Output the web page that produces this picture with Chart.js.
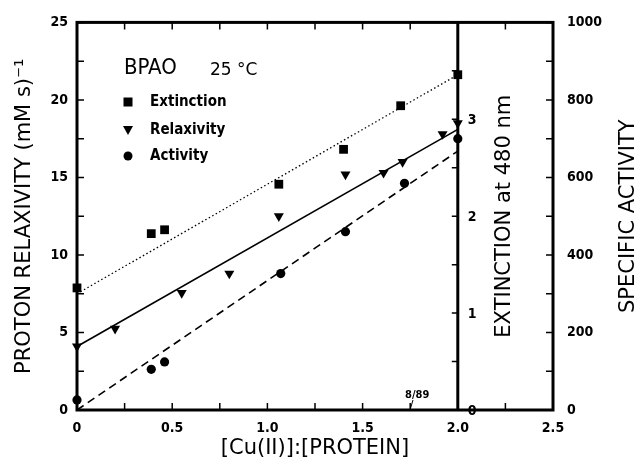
<!DOCTYPE html>
<html>
<head>
<meta charset="utf-8">
<script src="https://cdn.jsdelivr.net/npm/chart.js@4/dist/chart.umd.min.js"></script>
<style>
  html, body { margin: 0; padding: 0; background: #fff; }
</style>
</head>
<body>
<canvas id="chart" width="640" height="467"></canvas>
<script>
// Values
// Extinction at 480 nm (squares)
const extX = [0, 0.39, 0.46, 1.06, 1.40, 1.70, 2.0];
const extY = [1.26, 1.82, 1.86, 2.33, 2.69, 3.14, 3.46];
// Proton relaxivity (triangles), (mM s)^-1
const relaxX = [0, 0.20, 0.55, 0.80, 1.06, 1.41, 1.61, 1.71, 1.92, 2.0];
const relaxY = [4.1, 5.25, 7.55, 8.8, 12.5, 15.2, 15.3, 16.0, 17.8, 18.5];
// Specific activity (circles)
const actX = [0, 0.39, 0.46, 1.07, 1.41, 1.72, 2.0];
const actY = [26, 105, 124, 352, 460, 585, 700];

// fitted lines (end points)
const extFitX   = [0, 2.0];
const extFitY   = [1.2, 3.46];
const relaxFitX = [0, 2.0];
const relaxFitY = [4.1, 18.1];
const actFitX   = [0, 2.0];
const actFitY   = [0, 668];

const extTickLabels = [0, 1, 2, 3];

const FONT = '"DejaVu Sans Condensed", "Liberation Sans Narrow", "DejaVu Sans", sans-serif';
const WIDE = '"DejaVu Sans", sans-serif';
const BLACK = '#000';

const pts = (xs, ys) => xs.map((x, i) => ({ x, y: ys[i] }));

// frame, inward ticks, extinction axis, annotations
const decorations = {
  id: 'decorations',
  beforeDatasetsDraw(chart) {
    const { ctx, chartArea: a, scales } = chart;
    const sx = scales.x, sy = scales.y, sa = scales.yAct, se = scales.yExt;
    const tl = 7;
    ctx.save();
    ctx.strokeStyle = BLACK;

    // ticks
    ctx.lineWidth = 1.5;
    ctx.beginPath();
    for (let v = 0; v <= 2.5001; v += 0.25) {
      const px = sx.getPixelForValue(v);
      ctx.moveTo(px, a.bottom); ctx.lineTo(px, a.bottom - tl);
      ctx.moveTo(px, a.top);    ctx.lineTo(px, a.top + tl);
    }
    for (let v = 0; v <= 25.001; v += 2.5) {
      const py = sy.getPixelForValue(v);
      ctx.moveTo(a.left, py); ctx.lineTo(a.left + tl, py);
    }
    for (let v = 0; v <= 1000; v += 100) {
      const py = sa.getPixelForValue(v);
      ctx.moveTo(a.right, py); ctx.lineTo(a.right - tl, py);
    }
    const ex = sx.getPixelForValue(2.0);
    for (let v = 0; v <= 4.001; v += 0.5) {
      const py = se.getPixelForValue(v);
      ctx.moveTo(ex, py); ctx.lineTo(ex - 6, py);
    }
    ctx.stroke();

    // frame
    ctx.lineWidth = 3;
    ctx.strokeRect(a.left, a.top, a.right - a.left, a.bottom - a.top);
    ctx.beginPath();
    ctx.moveTo(ex, a.top); ctx.lineTo(ex, a.bottom);
    ctx.stroke();

    // extinction tick labels
    ctx.fillStyle = BLACK;
    ctx.font = 'bold 14px ' + FONT;
    ctx.textAlign = 'left';
    ctx.textBaseline = 'middle';
    extTickLabels.forEach(v => {
      ctx.fillText(String(v), ex + 10, se.getPixelForValue(v) + 1);
    });

    // rotated titles
    ctx.font = '21px ' + WIDE;
    ctx.textAlign = 'center';
    ctx.save();
    ctx.translate(505, (a.top + a.bottom) / 2);
    ctx.rotate(-Math.PI / 2);
    ctx.fillText('EXTINCTION at 480 nm', 0, 0);
    ctx.restore();
    ctx.save();
    ctx.translate(629, (a.top + a.bottom) / 2);
    ctx.rotate(-Math.PI / 2);
    ctx.fillText('SPECIFIC ACTIVITY', 0, 0);
    ctx.restore();

    // sample label
    ctx.textAlign = 'left';
    ctx.font = '22px ' + FONT;
    ctx.fillText('BPAO', 124, 68);
    ctx.font = '17px ' + WIDE;
    ctx.fillText('25 °C', 210, 71);

    // legend
    const lx = 128;
    const rows = [102, 130, 156];
    ctx.fillRect(lx - 4.5, rows[0] - 4.5, 9, 9);
    ctx.beginPath();
    ctx.moveTo(lx - 5, rows[1] - 4); ctx.lineTo(lx + 5, rows[1] - 4); ctx.lineTo(lx, rows[1] + 5);
    ctx.closePath(); ctx.fill();
    ctx.beginPath(); ctx.arc(lx, rows[2], 4.5, 0, Math.PI * 2); ctx.fill();
    ctx.font = 'bold 15px ' + FONT;
    ctx.fillText('Extinction', 150, rows[0]);
    ctx.fillText('Relaxivity', 150, rows[1]);
    ctx.fillText('Activity', 150, rows[2]);

    // plot stamp
    ctx.font = 'bold 11px ' + FONT;
    ctx.fillText('8/89', 405, 395);
    ctx.lineWidth = 1;
    ctx.beginPath(); ctx.moveTo(413, 400); ctx.lineTo(410, a.bottom); ctx.stroke();

    ctx.restore();
  }
};

const markerBase = {
  showLine: false,
  backgroundColor: BLACK,
  borderColor: BLACK,
  borderWidth: 0,
  clip: false,
};
const lineBase = {
  showLine: true,
  pointRadius: 0,
  borderColor: BLACK,
  borderWidth: 1.6,
  fill: false,
  tension: 0,
};

new Chart(document.getElementById('chart'), {
  type: 'scatter',
  data: {
    datasets: [
      { ...lineBase, data: pts(extFitX, extFitY), yAxisID: 'yExt', borderDash: [1.5, 2.5], borderWidth: 1.3 },
      { ...lineBase, data: pts(relaxFitX, relaxFitY), yAxisID: 'y' },
      { ...lineBase, data: pts(actFitX, actFitY), yAxisID: 'yAct', borderDash: [8, 5] },
      { ...markerBase, label: 'Extinction', data: pts(extX, extY), yAxisID: 'yExt', pointStyle: 'rect', pointRadius: 6.2 },
      { ...markerBase, label: 'Relaxivity', data: pts(relaxX, relaxY), yAxisID: 'y', pointStyle: 'triangle', pointRotation: 180, pointRadius: 5.8 },
      { ...markerBase, label: 'Activity', data: pts(actX, actY), yAxisID: 'yAct', pointStyle: 'circle', pointRadius: 4.6 },
    ],
  },
  options: {
    responsive: false,
    animation: false,
    devicePixelRatio: 1,
    layout: { padding: { top: 20, left: 0, right: 0, bottom: 0 } },
    plugins: { legend: { display: false }, tooltip: { enabled: false } },
    scales: {
      x: {
        type: 'linear', min: 0, max: 2.5,
        grid: { display: false, drawTicks: false },
        border: { display: false },
        ticks: {
          stepSize: 0.5, color: BLACK, padding: 10, maxRotation: 0,
          font: { family: FONT, size: 14, weight: 'bold' },
          callback: v => (v === 0 ? '0' : v.toFixed(1)),
        },
        title: {
          display: true, text: '[Cu(II)]:[PROTEIN]', color: BLACK,
          font: { family: WIDE, size: 21 }, padding: { top: 0, bottom: 6 },
        },
        afterFit(s) { s.height = 57; },
      },
      y: {
        position: 'left', min: 0, max: 25,
        grid: { display: false, drawTicks: false },
        border: { display: false },
        ticks: { stepSize: 5, color: BLACK, padding: 9, font: { family: FONT, size: 14, weight: 'bold' } },
        title: {
          display: true, text: 'PROTON RELAXIVITY (mM s)⁻¹', color: BLACK,
          font: { family: WIDE, size: 21 }, padding: { top: 12, bottom: 0 },
        },
        afterFit(s) { s.width = 77; },
      },
      yAct: {
        position: 'right', min: 0, max: 1000,
        grid: { display: false, drawTicks: false },
        border: { display: false },
        ticks: {
          stepSize: 200, color: BLACK, padding: 14,
          font: { family: FONT, size: 14, weight: 'bold' },
          callback: v => String(v),
        },
        afterFit(s) { s.width = 87; },
      },
      yExt: { display: false, min: 0, max: 4 },
    },
  },
  plugins: [decorations],
});
</script>
</body>
</html>
